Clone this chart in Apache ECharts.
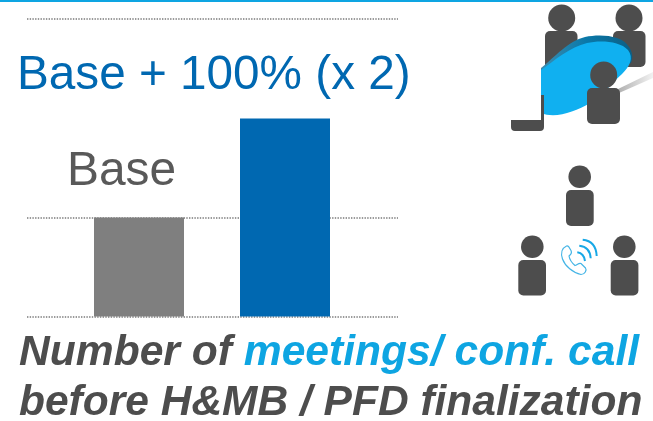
<!DOCTYPE html>
<html>
<head>
<meta charset="utf-8">
<style>html,body{margin:0;padding:0;background:#fff}#c{width:653px;height:421px}</style>
<script src="https://cdn.jsdelivr.net/npm/echarts@6/dist/echarts.min.js"></script>
</head>
<body>
<div id="c"></div>
<script>
const categories = ['Base', 'Base + 100%'];
const barValues = [100, 200];
const barColors = ['#7f7f7f', '#0068b1'];
const guideValues = [0, 100, 301];
const axisMax = 301;

const inkGrey = '#4d4d4d';
const sky = '#0ea5e2';
const royal = '#0068b1';

// One figure of the pictogram: a head above a rounded torso.
function person(cx, cy, r, x, y, w, h) {
  return [
    { type: 'circle', shape: { cx, cy, r }, style: { fill: inkGrey } },
    { type: 'rect', shape: { x, y, width: w, height: h, r: 5 }, style: { fill: inkGrey } }
  ];
}

// Freeform outlines are registered as shape classes so the graphic component can build them.
let shapeCount = 0;
function outline(d, style) {
  const name = 'outline' + (shapeCount++);
  echarts.graphic.registerShape(name, echarts.graphic.extendPath(d, {}));
  return { type: name, style };
}

const tableTop = 'M541 113 L541 70 C555 60 570 47 587 43 C600 40 620 41 628 50 C634 58 630 66 622 74 C610 85 602 96 590 103 C575 112 555 119 541 113 Z';
const tableRim = 'M541 68 C555 57 568 41 585 37 C600 34 622 35 629 47 C633 53 633 58 631 63 L600 75 L541 80 Z';

const meetingIcon = [
  ...person(561.7, 18, 13.5, 545, 31, 32.5, 50),
  ...person(629, 18, 13.5, 613, 31, 32.5, 36),
  outline('M618 89 L653 72 L653 78 L619 93 Z', {
    fill: { type: 'linear', x: 0, y: 0, x2: 1, y2: 0, global: false, colorStops: [
      { offset: 0, color: '#b0b0b0' }, { offset: 1, color: '#f2f2f2' }] } }),
  outline(tableRim, {
    fill: { type: 'linear', x: 0, y: 0, x2: 1, y2: 0, global: false, colorStops: [
      { offset: 0, color: '#3b8db0' }, { offset: 0.5, color: '#0a78a8' }, { offset: 1, color: '#0c5f85' }] } }),
  outline(tableTop, { fill: '#10b0f0' }),
  ...person(603.7, 75, 13.5, 587, 88, 33, 36),
  outline('M541 95 L544 95 L544 127 Q544 131 540 131 L515 131 Q511 131 511 127 L511 120 L541 120 Z', { fill: inkGrey })
];

const callIcon = [
  ...person(579.7, 176.7, 11.3, 566, 190, 27.7, 36),
  ...person(532.3, 246.7, 11.3, 518.3, 260, 27.7, 35.5),
  ...person(624.3, 246.7, 11.3, 610.7, 260, 27.7, 35.5),
  outline('M566.5 246 C562 248 560.5 253 562.5 259 C565 266 573 273 581 274.5 C585 274.5 587 270 585.5 268 L581 263.5 C579 262.5 577 265 575 265.5 C572 263 569.5 259 569 256 C571 254.5 572 252.5 571 250.5 L568.5 246.5 C568 246 567 245.8 566.5 246 Z',
    { fill: 'none', stroke: '#45b5e6', lineWidth: 1.2 }),
  ...[
    'M577.3 252.3 Q584 253.3 585 261',
    'M579.3 245.7 Q590 246.7 590.7 258.3',
    'M582.7 239.7 Q596 241 596.7 256'
  ].map(d => outline(d, { fill: 'none', stroke: '#17a8e6', lineWidth: 2 }))
];

const captions = [
  { type: 'text', x: 17, y: 76, style: { text: 'Base + 100% (x 2)', fill: royal,
      font: '47.7px "Liberation Sans"', verticalAlign: 'middle' } },
  { type: 'text', x: 67, y: 172, style: { text: 'Base', fill: '#595959',
      font: '47.9px "Liberation Sans"', verticalAlign: 'middle' } },
  { type: 'text', x: 19, y: 353.5, style: {
      text: '{d|Number of }{h|meetings/ conf. call}', verticalAlign: 'middle',
      rich: {
        d: { fill: inkGrey, font: 'italic bold 42.6px "Liberation Sans"' },
        h: { fill: sky, font: 'italic bold 42.6px "Liberation Sans"' }
      } } },
  { type: 'text', x: 19, y: 403.5, style: { text: 'before H&MB / PFD finalization', fill: inkGrey,
      font: 'italic bold 42.5px "Liberation Sans"', verticalAlign: 'middle' } }
];

const chart = echarts.init(document.getElementById('c'), null, { renderer: 'canvas' });
chart.setOption({
  animation: false,
  backgroundColor: '#fff',
  grid: [
    { left: 66, width: 292, top: 18.5, height: 298 },
    { left: 27, width: 371, top: 18.5, height: 298 }
  ],
  xAxis: [
    { gridIndex: 0, type: 'category', data: categories, show: false },
    { gridIndex: 1, type: 'category', data: categories, show: false }
  ],
  yAxis: [
    { gridIndex: 0, type: 'value', min: 0, max: axisMax, show: false },
    { gridIndex: 1, type: 'value', min: 0, max: axisMax,
      axisLine: { show: false }, axisLabel: { show: false },
      axisTick: { show: false, customValues: guideValues },
      splitLine: { show: true, showMinLine: true, showMaxLine: true,
        lineStyle: { color: '#7a7a7a', width: 1.5, type: [1.4, 1.3] } } }
  ],
  series: [
    { type: 'bar', xAxisIndex: 0, yAxisIndex: 0, barWidth: 90, z: 3,
      data: barValues.map((v, i) => ({ value: v, itemStyle: { color: barColors[i] } })) }
  ],
  graphic: [
    { type: 'rect', shape: { x: 0, y: 0, width: 653, height: 2 }, style: { fill: sky } },
    ...meetingIcon,
    ...callIcon,
    ...captions
  ]
});
</script>
</body>
</html>
